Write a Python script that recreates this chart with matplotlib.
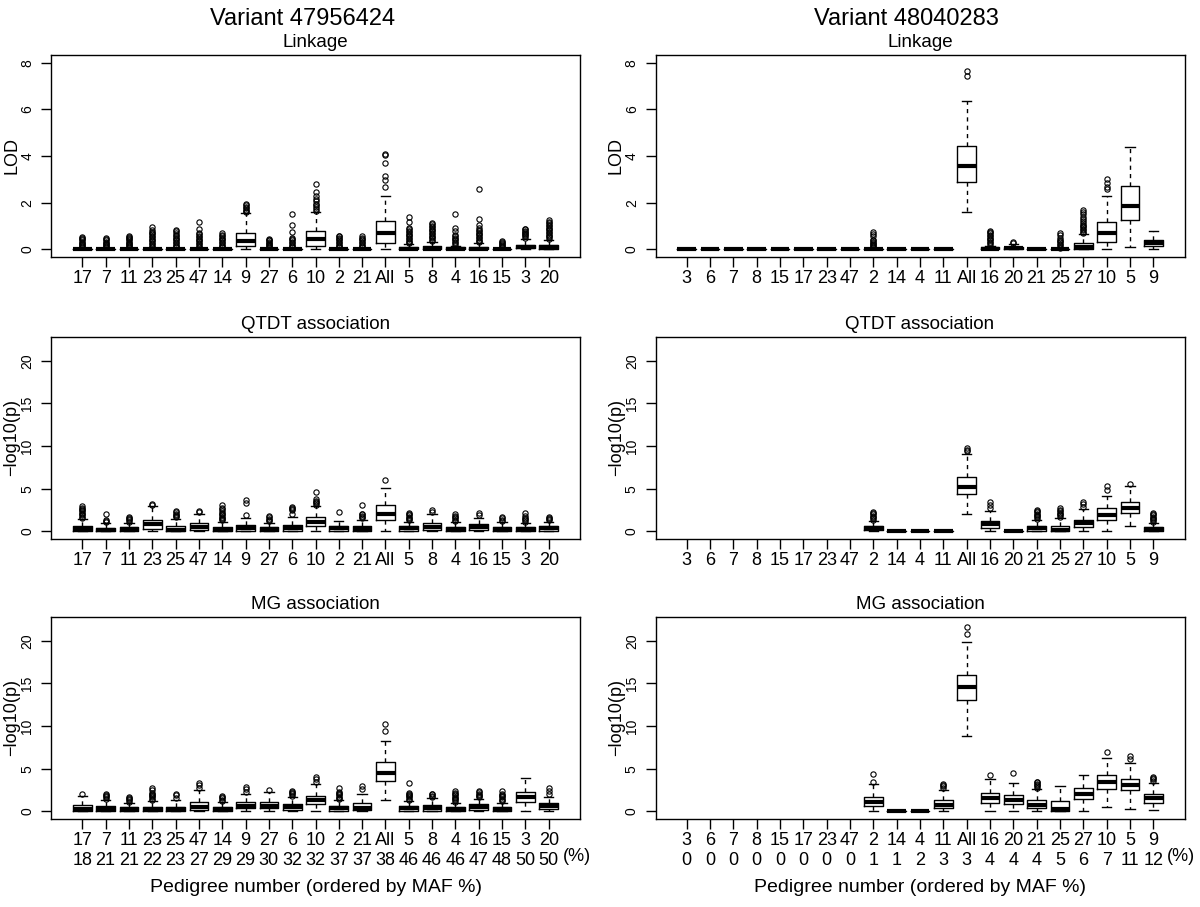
import matplotlib
matplotlib.use("Agg")
import matplotlib.pyplot as plt
import matplotlib.transforms as mtransforms

plt.rcParams['font.family'] = ['Liberation Sans', 'DejaVu Sans']

# ---------------- categories (pedigree number, ordered by MAF %) ----------------
left_ped = ["17", "7", "11", "23", "25", "47", "14", "9", "27", "6", "10",
            "2", "21", "All", "5", "8", "4", "16", "15", "3", "20"]
left_maf = ["18", "21", "21", "22", "23", "27", "29", "29", "30", "32", "32",
            "37", "37", "38", "46", "46", "46", "47", "48", "50", "50"]
right_ped = ["3", "6", "7", "8", "15", "17", "23", "47", "2", "14", "4",
             "11", "All", "16", "20", "21", "25", "27", "10", "5", "9"]
right_maf = ["0", "0", "0", "0", "0", "0", "0", "0", "1", "1", "2",
             "3", "3", "4", "4", "4", "5", "6", "7", "11", "12"]

# ---------------- Variant 47956424 : Linkage ----------------
ll_q1 = [0, 0, 0, 0, 0, 0, 0, 0.15, 0, 0, 0.13, 0, 0, 0.25, 0, 0, 0, 0, 0, 0.05, 0.01]
ll_med = [0, 0, 0, 0, 0, 0, 0, 0.37, 0, 0, 0.45, 0, 0, 0.72, 0.02, 0.03, 0.01, 0.03, 0, 0.12, 0.08]
ll_q3 = [0.03, 0.02, 0.03, 0.03, 0.02, 0.03, 0.02, 0.72, 0.02, 0.02, 0.78, 0.02, 0.02, 1.2,
         0.12, 0.15, 0.08, 0.12, 0.03, 0.2, 0.18]
ll_lo = [0] * 21
ll_hi = [0.05, 0.04, 0.05, 0.06, 0.04, 0.06, 0.04, 1.55, 0.04, 0.04, 1.6, 0.04, 0.04, 2.3,
         0.22, 0.3, 0.15, 0.25, 0.05, 0.45, 0.4]
ll_out = [
    [0.08, 0.13, 0.18, 0.23, 0.28, 0.33, 0.38, 0.43, 0.48, 0.52],
    [0.08, 0.13, 0.18, 0.23, 0.28, 0.33, 0.38, 0.43, 0.47],
    [0.08, 0.13, 0.18, 0.23, 0.28, 0.33, 0.38, 0.43, 0.48, 0.53, 0.56],
    [0.1, 0.16, 0.22, 0.28, 0.34, 0.4, 0.46, 0.52, 0.58, 0.64, 0.7, 0.75, 0.82, 0.95],
    [0.08, 0.14, 0.2, 0.26, 0.32, 0.38, 0.44, 0.5, 0.56, 0.6, 0.7, 0.78, 0.84],
    [0.1, 0.16, 0.22, 0.28, 0.34, 0.4, 0.46, 0.52, 0.58, 0.64, 0.7, 0.85, 1.18],
    [0.08, 0.14, 0.2, 0.26, 0.32, 0.38, 0.44, 0.5, 0.56, 0.62, 0.7],
    [1.6, 1.65, 1.7, 1.75, 1.8, 1.88, 1.95],
    [0.08, 0.13, 0.18, 0.23, 0.28, 0.33, 0.38, 0.42, 0.45],
    [0.08, 0.14, 0.2, 0.26, 0.32, 0.38, 0.44, 0.5, 0.75, 1.05, 1.5],
    [1.65, 1.72, 1.8, 1.88, 1.95, 2.05, 2.15, 2.3, 2.45, 2.8],
    [0.08, 0.14, 0.2, 0.26, 0.32, 0.38, 0.44, 0.5, 0.55, 0.58],
    [0.08, 0.14, 0.2, 0.26, 0.32, 0.38, 0.44, 0.5, 0.55],
    [2.65, 2.95, 3.15, 3.72, 4.05, 4.1],
    [0.25, 0.31, 0.37, 0.43, 0.49, 0.55, 0.61, 0.67, 0.73, 0.79, 0.85, 0.9, 1.15, 1.4],
    [0.35, 0.41, 0.47, 0.53, 0.59, 0.65, 0.71, 0.77, 0.83, 0.89, 0.95, 1.01, 1.07, 1.12],
    [0.2, 0.26, 0.32, 0.38, 0.44, 0.5, 0.56, 0.6, 0.8, 0.92, 1.5],
    [0.3, 0.36, 0.42, 0.48, 0.54, 0.6, 0.66, 0.72, 0.78, 0.84, 0.9, 1.05, 1.3, 2.6],
    [0.08, 0.13, 0.18, 0.23, 0.28, 0.33, 0.35],
    [0.5, 0.55, 0.6, 0.65, 0.7, 0.75, 0.8, 0.85, 0.87],
    [0.45, 0.51, 0.57, 0.63, 0.69, 0.75, 0.81, 0.87, 0.93, 0.99, 1.05, 1.11, 1.17, 1.25],
]

# ---------------- Variant 48040283 : Linkage ----------------
rl_q1 = [0, 0, 0, 0, 0, 0, 0, 0, 0, 0, 0, 0, 2.87, 0, 0, 0, 0, 0.03, 0.3, 1.25, 0.15]
rl_med = [0, 0, 0, 0, 0, 0, 0, 0, 0, 0, 0, 0, 3.55, 0.02, 0.05, 0, 0, 0.1, 0.68, 1.85, 0.28]
rl_q3 = [0, 0, 0, 0, 0, 0, 0, 0, 0.03, 0.01, 0, 0, 4.42, 0.08, 0.12, 0, 0.02, 0.28, 1.18, 2.72, 0.42]
rl_lo = [0, 0, 0, 0, 0, 0, 0, 0, 0, 0, 0, 0, 1.62, 0, 0, 0, 0, 0, 0, 0.12, 0]
rl_hi = [0, 0, 0, 0, 0, 0, 0, 0, 0.06, 0.02, 0, 0, 6.37, 0.15, 0.22, 0, 0.04, 0.65, 2.3, 4.4, 0.8]
rl_out = [
    [], [], [], [], [], [], [], [],
    [0.08, 0.13, 0.18, 0.23, 0.28, 0.33, 0.38, 0.4, 0.55, 0.65, 0.75],
    [], [], [],
    [7.45, 7.65],
    [0.2, 0.26, 0.32, 0.38, 0.44, 0.5, 0.56, 0.62, 0.68, 0.74, 0.78],
    [0.28, 0.33],
    [],
    [0.06, 0.12, 0.18, 0.24, 0.3, 0.36, 0.4, 0.5, 0.6, 0.72],
    [0.7, 0.76, 0.82, 0.88, 0.94, 1.0, 1.06, 1.12, 1.2, 1.3, 1.4, 1.5, 1.6, 1.7],
    [2.6, 2.65, 2.85, 3.0],
    [],
    [],
]

# ---------------- Variant 47956424 : QTDT association ----------------
lq_q1 = [0.05, 0.03, 0.05, 0.3, 0.05, 0.2, 0.03, 0.1, 0.05, 0.1, 0.7, 0.1, 0.05, 1.35,
         0.1, 0.2, 0.05, 0.2, 0.05, 0.05, 0.1]
lq_med = [0.25, 0.2, 0.28, 0.85, 0.2, 0.55, 0.2, 0.35, 0.28, 0.4, 1.15, 0.35, 0.3, 2.1,
          0.35, 0.55, 0.3, 0.5, 0.25, 0.25, 0.35]
lq_q3 = [0.6, 0.45, 0.5, 1.35, 0.65, 0.95, 0.5, 0.75, 0.55, 0.8, 1.65, 0.6, 0.65, 3.05,
         0.6, 0.95, 0.55, 0.85, 0.5, 0.55, 0.6]
lq_lo = [0, 0, 0, 0, 0, 0, 0, 0, 0, 0, 0, 0, 0, 0.1, 0, 0, 0, 0, 0, 0, 0]
lq_hi = [1.45, 1.0, 1.0, 2.95, 1.5, 2.0, 1.15, 1.6, 1.05, 1.65, 3.0, 1.2, 1.4, 5.1,
         1.15, 2.0, 1.1, 1.6, 1.1, 1.0, 1.15]
lq_out = [
    [1.6, 1.75, 1.9, 2.05, 2.2, 2.35, 2.5, 2.65, 2.8, 2.95],
    [1.1, 1.25, 1.4, 2.1],
    [1.15, 1.3, 1.45, 1.6, 1.75],
    [3.1, 3.2],
    [1.65, 1.8, 1.95, 2.1, 2.25, 2.4],
    [2.3, 2.45],
    [1.3, 1.45, 1.6, 1.75, 1.9, 2.05, 2.2, 2.4, 2.6, 2.8, 3.1],
    [1.9, 3.3, 3.65],
    [1.2, 1.35, 1.5, 1.65, 1.8],
    [2.05, 2.5, 2.65, 2.8, 2.92],
    [3.15, 3.3, 3.45, 3.6, 3.75, 4.6],
    [2.3],
    [1.55, 1.7, 1.85, 2.0, 2.1, 3.05],
    [6.0],
    [1.3, 1.45, 1.6, 1.75, 1.9, 2.05, 2.2],
    [2.3, 2.5],
    [1.25, 1.4, 1.55, 1.7, 1.85, 2.0],
    [1.95, 2.2],
    [1.25, 1.4, 1.55, 1.65],
    [1.15, 1.3, 1.45, 1.6, 1.8, 2.2],
    [1.3, 1.45, 1.6, 1.75],
]

# ---------------- Variant 48040283 : QTDT association (None = not drawn) ----------------
rq_q1 = [None] * 8 + [0.2, 0, 0, 0, 4.4, 0.45, 0, 0.1, 0, 0.55, 1.4, 2.15, 0.1]
rq_med = [None] * 8 + [0.4, 0, 0, 0, 5.2, 0.85, 0, 0.35, 0.2, 0.95, 1.95, 2.75, 0.3]
rq_q3 = [None] * 8 + [0.65, 0.03, 0.03, 0.03, 6.35, 1.25, 0.03, 0.65, 0.65, 1.4, 2.75, 3.45, 0.5]
rq_lo = [None] * 8 + [0.05, 0, 0, 0, 2.1, 0, 0, 0, 0, 0, 0, 0.7, 0]
rq_hi = [None] * 8 + [1.25, 0.05, 0.05, 0.05, 9.1, 2.4, 0.05, 1.35, 1.6, 2.6, 4.2, 5.3, 1.0]
rq_out = [[]] * 8 + [
    [1.4, 1.55, 1.7, 1.85, 2.0, 2.15, 2.3],
    [], [], [],
    [9.4, 9.6, 9.75],
    [2.7, 3.1, 3.5],
    [],
    [1.5, 1.65, 1.8, 1.95, 2.1, 2.25, 2.4, 2.5],
    [1.75, 1.9, 2.05, 2.2, 2.35, 2.5, 2.7],
    [2.9, 3.2, 3.4],
    [4.9, 5.3],
    [5.6],
    [1.15, 1.3, 1.45, 1.6, 1.75, 1.9, 2.05, 2.2],
]

# ---------------- Variant 47956424 : MG association ----------------
lm_q1 = [0.05, 0.05, 0.05, 0.05, 0.05, 0.2, 0.05, 0.4, 0.35, 0.2, 0.85, 0.1, 0.15, 3.6,
         0.1, 0.1, 0.05, 0.2, 0.05, 1.15, 0.3]
lm_med = [0.3, 0.3, 0.3, 0.3, 0.25, 0.55, 0.3, 0.7, 0.7, 0.5, 1.3, 0.35, 0.45, 4.45,
          0.35, 0.4, 0.3, 0.55, 0.3, 1.75, 0.6]
lm_q3 = [0.75, 0.7, 0.5, 0.55, 0.55, 1.15, 0.5, 1.1, 1.15, 0.85, 1.85, 0.65, 0.95, 5.8,
         0.65, 0.75, 0.55, 0.85, 0.55, 2.3, 1.0]
lm_lo = [0, 0, 0, 0, 0, 0, 0, 0, 0, 0, 0.05, 0, 0, 1.35, 0, 0, 0, 0, 0, 0, 0]
lm_hi = [1.85, 1.35, 1.0, 1.2, 1.3, 2.5, 1.1, 2.0, 2.3, 1.7, 3.25, 1.3, 2.0, 8.3,
         1.2, 1.55, 1.0, 1.5, 1.05, 3.9, 1.7]
lm_out = [
    [2.0],
    [1.5, 1.65, 1.8, 1.95, 2.1],
    [1.15, 1.3, 1.45, 1.6, 1.75],
    [1.35, 1.5, 1.65, 1.8, 1.95, 2.1, 2.2, 2.5, 2.8],
    [1.6, 1.9, 2.0],
    [2.8, 3.1, 3.35],
    [1.25, 1.4, 1.55, 1.7, 1.85],
    [2.3, 2.6, 2.9],
    [2.55],
    [1.85, 2.0, 2.15, 2.3, 2.45],
    [3.5, 3.75, 4.0],
    [1.45, 1.6, 1.75, 1.9, 2.05, 2.2, 2.3, 2.8],
    [2.6, 3.0],
    [9.4, 10.3],
    [1.35, 1.5, 1.65, 1.8, 1.95, 2.1, 2.2, 3.35],
    [1.7, 1.85, 2.0, 2.1],
    [1.15, 1.3, 1.45, 1.6, 1.75, 1.9, 2.05, 2.2, 2.4],
    [1.65, 1.8, 1.95, 2.1, 2.25, 2.4],
    [1.2, 1.35, 1.5, 1.65, 1.8, 1.95, 2.1, 2.35],
    [],
    [2.0, 2.35, 2.7],
]

# ---------------- Variant 48040283 : MG association ----------------
rm_q1 = [None] * 8 + [0.6, 0, 0, 0.35, 13.05, 1.05, 0.85, 0.35, 0, 1.45, 2.6, 2.5, 1.05]
rm_med = [None] * 8 + [1.15, 0, 0, 0.75, 14.55, 1.6, 1.4, 0.8, 0.25, 2.1, 3.5, 3.1, 1.58]
rm_q3 = [None] * 8 + [1.7, 0.03, 0.05, 1.4, 15.95, 2.2, 1.9, 1.35, 1.25, 2.7, 4.22, 3.82, 2.08]
rm_lo = [None] * 8 + [0, 0, 0, 0, 8.8, 0, 0, 0, 0, 0, 0.55, 0.33, 0.22]
rm_hi = [None] * 8 + [3.2, 0.05, 0.1, 2.5, 19.9, 3.75, 3.3, 2.65, 2.95, 4.28, 6.3, 5.7, 3.38]
rm_out = [[]] * 8 + [
    [3.5, 4.35],
    [], [],
    [2.8, 2.95, 3.1, 3.25],
    [20.8, 21.6],
    [4.3],
    [4.45],
    [2.8, 2.95, 3.1, 3.25, 3.4, 3.5],
    [],
    [],
    [7.0],
    [6.2, 6.5],
    [3.6, 3.75, 3.9, 4.05],
]


def draw_panel(ax, q1, med, q3, lo, hi, out, ylim, yticks, ylabel, title, labels):
    '''one R-style boxplot panel'''
    stats, pos = [], []
    for i in range(len(med)):
        if med[i] is None:   # pedigree not informative -> nothing drawn
            continue
        stats.append(dict(q1=q1[i], med=med[i], q3=q3[i], whislo=lo[i], whishi=hi[i], fliers=out[i]))
        pos.append(i + 1)
    ax.bxp(stats, positions=pos, widths=0.8, capwidths=0.4, showfliers=True,
           boxprops=dict(color='black', linewidth=1.0),
           medianprops=dict(color='black', linewidth=3.0, solid_capstyle='butt'),
           whiskerprops=dict(color='black', linewidth=1.0, linestyle=(0, (3, 3))),
           capprops=dict(color='black', linewidth=1.0),
           flierprops=dict(marker='o', markerfacecolor='none', markeredgecolor='black',
                           markersize=3.8, markeredgewidth=0.8, linestyle='none'))
    ax.set_xlim(-0.34, 22.34)
    ax.set_ylim(*ylim)
    ax.set_xticks(range(1, 22))
    ax.set_xticklabels(labels, fontsize=13)
    ax.set_yticks(yticks)
    ax.set_yticklabels([str(t) for t in yticks], fontsize=10, rotation=90, va='center')
    ax.tick_params(axis='x', direction='out', length=7, width=1, pad=2.5)
    ax.tick_params(axis='y', direction='out', length=7, width=1, pad=5)
    for s in ax.spines.values():
        s.set_linewidth(1.0)
    ax.set_ylabel(ylabel, fontsize=13)
    ax.yaxis.set_label_coords(-0.058, 0.5)
    ax.set_title(title, fontsize=13.5, pad=6)


fig = plt.figure(figsize=(12, 9.07), dpi=100)
W, H = 1200.0, 907.0
cols = [51, 655.5]
rows = [55, 337, 617]
aw, ah = 529, 202
axes = [[fig.add_axes([c / W, 1 - (r + ah) / H, aw / W, ah / H]) for c in cols] for r in rows]

lod_lim = (-0.33, 8.33)
p_lim = (-0.88, 22.78)
left_bottom = [p + "\n" + m for p, m in zip(left_ped, left_maf)]
right_bottom = [p + "\n" + m for p, m in zip(right_ped, right_maf)]

draw_panel(axes[0][0], ll_q1, ll_med, ll_q3, ll_lo, ll_hi, ll_out, lod_lim, [0, 2, 4, 6, 8], "LOD", "Linkage", left_ped)
draw_panel(axes[0][1], rl_q1, rl_med, rl_q3, rl_lo, rl_hi, rl_out, lod_lim, [0, 2, 4, 6, 8], "LOD", "Linkage", right_ped)
draw_panel(axes[1][0], lq_q1, lq_med, lq_q3, lq_lo, lq_hi, lq_out, p_lim, [0, 5, 10, 15, 20], "\u2212log10(p)", "QTDT association", left_ped)
draw_panel(axes[1][1], rq_q1, rq_med, rq_q3, rq_lo, rq_hi, rq_out, p_lim, [0, 5, 10, 15, 20], "\u2212log10(p)", "QTDT association", right_ped)
draw_panel(axes[2][0], lm_q1, lm_med, lm_q3, lm_lo, lm_hi, lm_out, p_lim, [0, 5, 10, 15, 20], "\u2212log10(p)", "MG association", left_bottom)
draw_panel(axes[2][1], rm_q1, rm_med, rm_q3, rm_lo, rm_hi, rm_out, p_lim, [0, 5, 10, 15, 20], "\u2212log10(p)", "MG association", right_bottom)

# "(%)" marker after the MAF row
for ax in axes[2]:
    tr = mtransforms.blended_transform_factory(ax.transData, ax.transAxes)
    ax.text(22.2, -0.185, "(%)", transform=tr, fontsize=13, ha='center', va='center', clip_on=False)

fig.text(303 / W, 1 - 19 / H, "Variant 47956424", fontsize=17, ha='center', va='center')
fig.text(906 / W, 1 - 19 / H, "Variant 48040283", fontsize=17, ha='center', va='center')
fig.text((cols[0] + aw / 2) / W, 1 - 888 / H, "Pedigree number (ordered by MAF %)", fontsize=14, ha='center', va='center')
fig.text((cols[1] + aw / 2) / W, 1 - 888 / H, "Pedigree number (ordered by MAF %)", fontsize=14, ha='center', va='center')

fig.savefig("out.png", dpi=100)
